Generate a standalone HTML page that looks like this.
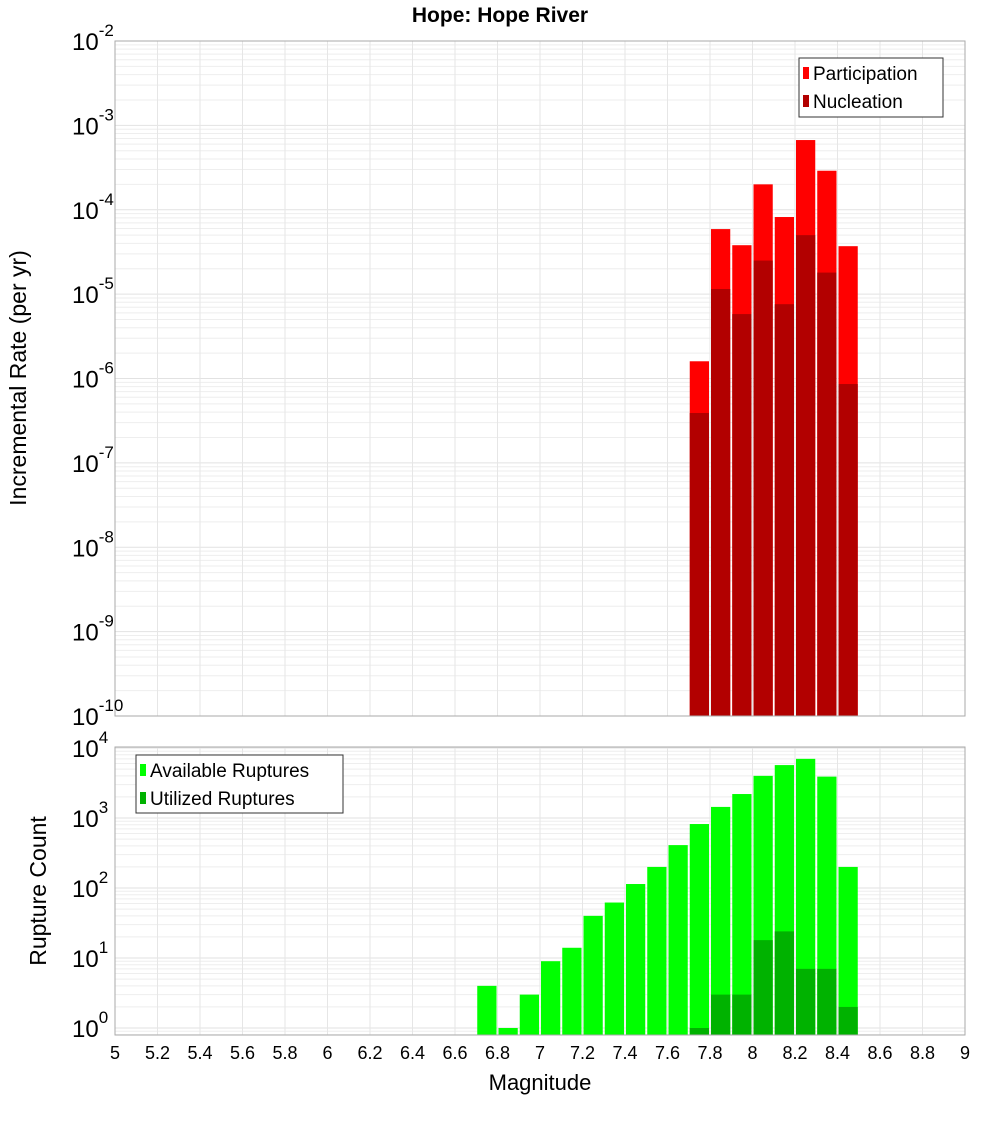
<!DOCTYPE html>
<html><head><meta charset="utf-8"><style>
body{margin:0;background:#fff;}
svg text{font-family:"Liberation Sans","DejaVu Sans",sans-serif;}
</style></head><body>
<svg id="chart" width="1000" height="1100" xmlns="http://www.w3.org/2000/svg">
<rect x="0" y="0" width="1000" height="1100" fill="#fff"/>
<text x="500" y="22" text-anchor="middle" font-size="21" font-weight="bold">Hope: Hope River</text>
<g id="top"></g><g id="bot"></g>
</svg>
<script>
const bins = [7.7,7.8,7.9,8.0,8.1,8.2,8.3,8.4];
const participation = [1.6e-6,5.9e-5,3.8e-5,2.0e-4,8.2e-5,6.7e-4,2.9e-4,3.7e-5];
const nucleation = [3.9e-7,1.15e-5,5.8e-6,2.5e-5,7.6e-6,5.0e-5,1.8e-5,8.6e-7];
const countBins = [6.7,6.8,6.9,7.0,7.1,7.2,7.3,7.4,7.5,7.6,7.7,7.8,7.9,8.0,8.1,8.2,8.3,8.4];
const available = [4,1,3,9,14,40,62,114,200,410,820,1440,2200,4000,5700,7000,3900,200];
const utilized = [0,0,0,0,0,0,0,0,0,0,1,3,3,18,24,7,7,2];
const xTicks = [5,5.2,5.4,5.6,5.8,6,6.2,6.4,6.6,6.8,7,7.2,7.4,7.6,7.8,8,8.2,8.4,8.6,8.8,9];
const topExps = [-2,-3,-4,-5,-6,-7,-8,-9,-10];
const botExps = [4,3,2,1,0];

const NS="http://www.w3.org/2000/svg";
const X0=115,X1=965;
const x = m => X0+(m-5)/4*(X1-X0);
const T0=41,T1=716; const yTop = v => T0+(-2-Math.log10(v))*(T1-T0)/8;
const B0=747,B1=1035; const yBot = v => 1028-Math.log10(v)*70;
function el(tag,attrs,parent){const e=document.createElementNS(NS,tag);for(const k in attrs)e.setAttribute(k,attrs[k]);parent.appendChild(e);return e;}
const svg=document.getElementById('chart');
const gT=document.getElementById('top'), gB=document.getElementById('bot');

function grid(g,top,bot,yf,expLo,expHi){
  for(let e=expLo;e<expHi;e++){for(let k=1;k<10;k++){const y=yf(k*Math.pow(10,e));if(y<top-0.5||y>bot+0.5)continue;
    const l=el('line',{x1:X0,x2:X1,y1:y,y2:y,stroke:k==1?'#e2e2e2':'#eeeeee','stroke-width':1},g);
    
    }}
  xTicks.forEach(t=>{const l=el('line',{x1:x(t),x2:x(t),y1:top,y2:bot,stroke:'#e6e6e6'},g);
    
    });
}
grid(gT,T0,T1,yTop,-10,-1);
grid(gB,B0,B1,yBot,-1,5);

const bw=(X1-X0)/40;
bins.forEach((b,i)=>{
  const r=el('rect',{x:x(b)+1,y:yTop(participation[i]),width:bw-2,height:T1-yTop(participation[i]),fill:'#ff0000'},gT);
  
  
  const n=el('rect',{x:x(b)+1,y:yTop(nucleation[i]),width:bw-2,height:T1-yTop(nucleation[i]),fill:'#b20000'},gT);
  
  
});
countBins.forEach((b,i)=>{
  const r=el('rect',{x:x(b)+1,y:yBot(available[i]),width:bw-2,height:B1-yBot(available[i]),fill:'#00ff00'},gB);
  
  
  if(utilized[i]>0){const u=el('rect',{x:x(b)+1,y:yBot(utilized[i]),width:bw-2,height:B1-yBot(utilized[i]),fill:'#00b200'},gB);
  
  }
});
el('rect',{x:X0,y:T0,width:X1-X0,height:T1-T0,fill:'none',stroke:'#aaaaaa'},gT);
el('rect',{x:X0,y:B0,width:X1-X0,height:B1-B0,fill:'none',stroke:'#aaaaaa'},gB);

function pow(g,xr,y,e){const t=el('text',{x:xr,y:y+9,'text-anchor':'end','font-size':24},g);
  
  
  t.appendChild(document.createTextNode('10'));
  const s=el('tspan',{dy:-14,'font-size':17},t);s.textContent=String(e);}
topExps.forEach(e=>{const y=yTop(Math.pow(10,e));const g=el('g',{},gT);
  const t=el('text',{x:72,y:y+9,'font-size':24},g);
  
  
  t.appendChild(document.createTextNode('10'));
  const s=el('tspan',{dy:-14,'font-size':17},t);s.textContent=String(e);});
botExps.forEach(e=>{const y=yBot(Math.pow(10,e));
  const t=el('text',{x:72,y:y+9,'font-size':24},gB);
  
  
  t.appendChild(document.createTextNode('10'));
  const s=el('tspan',{dy:-14,'font-size':17},t);s.textContent=String(e);});
xTicks.forEach(t=>{const tx=el('text',{x:x(t),y:1059,'text-anchor':'middle','font-size':18},gB);
  
  
  tx.textContent=String(t);});
</script>
<svg width="0" height="0"></svg>
<div style="position:absolute;left:0;top:0;width:1000px;height:1100px;pointer-events:none">
<svg width="1000" height="1100" xmlns="http://www.w3.org/2000/svg">
<text x="26" y="378" transform="rotate(-90 26 378)" text-anchor="middle" font-size="23" font-family="Liberation Sans, sans-serif">Incremental Rate (per yr)</text>
<text x="46" y="891" transform="rotate(-90 46 891)" text-anchor="middle" font-size="23" font-family="Liberation Sans, sans-serif">Rupture Count</text>
<text x="540" y="1090" text-anchor="middle" font-size="22" font-family="Liberation Sans, sans-serif">Magnitude</text>
<g>
<rect x="799" y="58" width="144" height="59" fill="#fff" stroke="#333"/>
<rect x="803" y="67" width="6" height="12" fill="#ff0000"/>
<text x="813" y="80" font-size="19" font-family="Liberation Sans, sans-serif">Participation</text>
<rect x="803" y="95" width="6" height="12" fill="#b20000"/>
<text x="813" y="108" font-size="19" font-family="Liberation Sans, sans-serif">Nucleation</text>
</g>
<g>
<rect x="136" y="755" width="207" height="58" fill="#fff" stroke="#333"/>
<rect x="140" y="764" width="6" height="12" fill="#00ff00"/>
<text x="150" y="777" font-size="19" font-family="Liberation Sans, sans-serif">Available Ruptures</text>
<rect x="140" y="792" width="6" height="12" fill="#00b200"/>
<text x="150" y="805" font-size="19" font-family="Liberation Sans, sans-serif">Utilized Ruptures</text>
</g>
</svg></div>
</body></html>
